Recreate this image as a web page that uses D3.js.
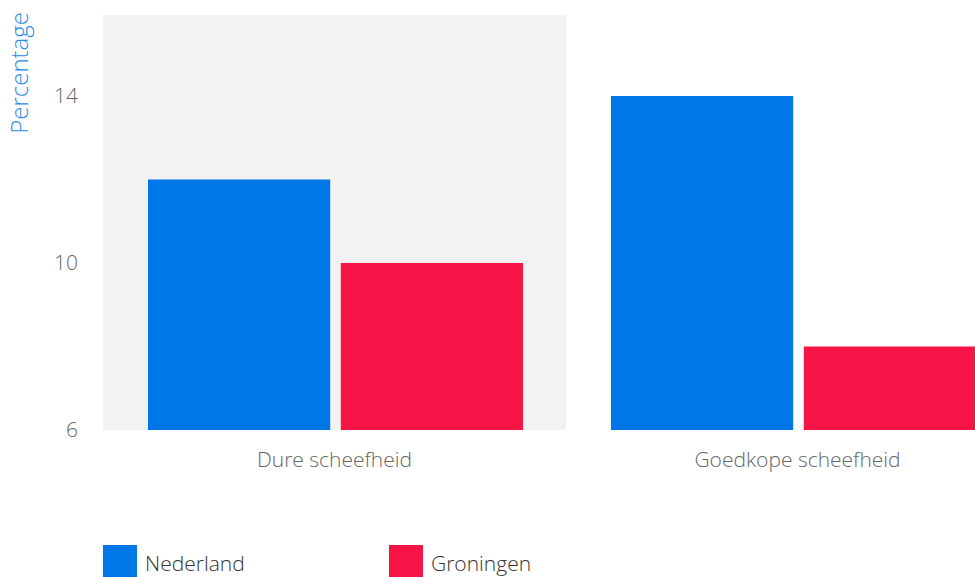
<!DOCTYPE html>
<html>
<head>
<meta charset="utf-8">
<script src="https://cdn.jsdelivr.net/npm/d3@7"></script>
<style>
  html, body { margin: 0; padding: 0; background: #fff; overflow: hidden; }
  svg { display: block; font-family: "Open Sans", sans-serif; font-weight: 300; }
</style>
</head>
<body>
<svg id="chart" width="975" height="577"></svg>
<script>
const categories = ["Dure scheefheid", "Goedkope scheefheid"];
const series = ["Nederland", "Groningen"];
const valuesNederland = [12, 14];
const valuesGroningen = [10, 8];
const yTicks = [6, 10, 14];
const colors = ["#0077E6", "#F71548"];
const yLabel = "Percentage";

const data = categories.map((c, i) => ({
  category: c,
  values: [
    { series: series[0], value: valuesNederland[i] },
    { series: series[1], value: valuesGroningen[i] }
  ]
}));

const svg = d3.select("#chart");
const plotLeft = 103, plotTop = 15, plotBottom = 430, plotRight = 1029;

const x0 = d3.scaleBand().domain(categories).range([plotLeft, plotRight]).padding(0);
const x1 = d3.scaleBand().domain(series).range([45, 420]).paddingInner(0.055);
const y = d3.scaleLinear().domain([6, 16]).range([plotBottom, 12.5]);
const color = d3.scaleOrdinal().domain(series).range(colors);

// highlight band for first category
svg.append("rect")
  .attr("x", x0(categories[0]))
  .attr("y", plotTop)
  .attr("width", x0.bandwidth())
  .attr("height", plotBottom - plotTop)
  .attr("fill", "#F2F2F2");

// bars
const groups = svg.selectAll("g.cat").data(data).join("g")
  .attr("class", "cat")
  .attr("transform", d => `translate(${x0(d.category)},0)`);

groups.selectAll("rect").data(d => d.values).join("rect")
  .attr("x", d => x1(d.series))
  .attr("y", d => y(d.value))
  .attr("width", x1.bandwidth())
  .attr("height", d => y(6) - y(d.value))
  .attr("fill", d => color(d.series));

// y axis
const yAxis = d3.axisLeft(y).tickValues(yTicks).tickSize(0).tickPadding(0);
const gy = svg.append("g").attr("transform", `translate(78,0)`).call(yAxis);
gy.select(".domain").remove();
gy.selectAll("text")
  .attr("fill", "#666")
  .style("font-size", "21px")
  .style("font-family", "'Open Sans', sans-serif")
  .style("font-weight", "300");

// x axis
const xAxis = d3.axisBottom(x0).tickSize(0).tickPadding(0);
const gx = svg.append("g").attr("transform", `translate(0,${plotBottom + 37})`).call(xAxis);
gx.select(".domain").remove();
gx.selectAll("text")
  .attr("fill", "#666")
  .attr("y", 0)
  .attr("dy", "0")
  .style("font-size", "21px")
  .style("font-family", "'Open Sans', sans-serif")
  .style("font-weight", "300");

// y label
svg.append("text")
  .attr("transform", "translate(28,12) rotate(-90)")
  .attr("text-anchor", "end")
  .attr("fill", "#2B8CE8")
  .style("font-size", "24px")
  .text(yLabel);

// legend
const legendX = [103, 389];
const legend = svg.selectAll("g.legend").data(series).join("g")
  .attr("class", "legend")
  .attr("transform", (d, i) => `translate(${legendX[i]},545)`);
legend.append("rect")
  .attr("width", 34).attr("height", 34)
  .attr("fill", d => color(d));
legend.append("text")
  .attr("x", 42).attr("y", 26)
  .attr("fill", "#333")
  .style("font-size", "21px")
  .text(d => d);
</script>
</body>
</html>
